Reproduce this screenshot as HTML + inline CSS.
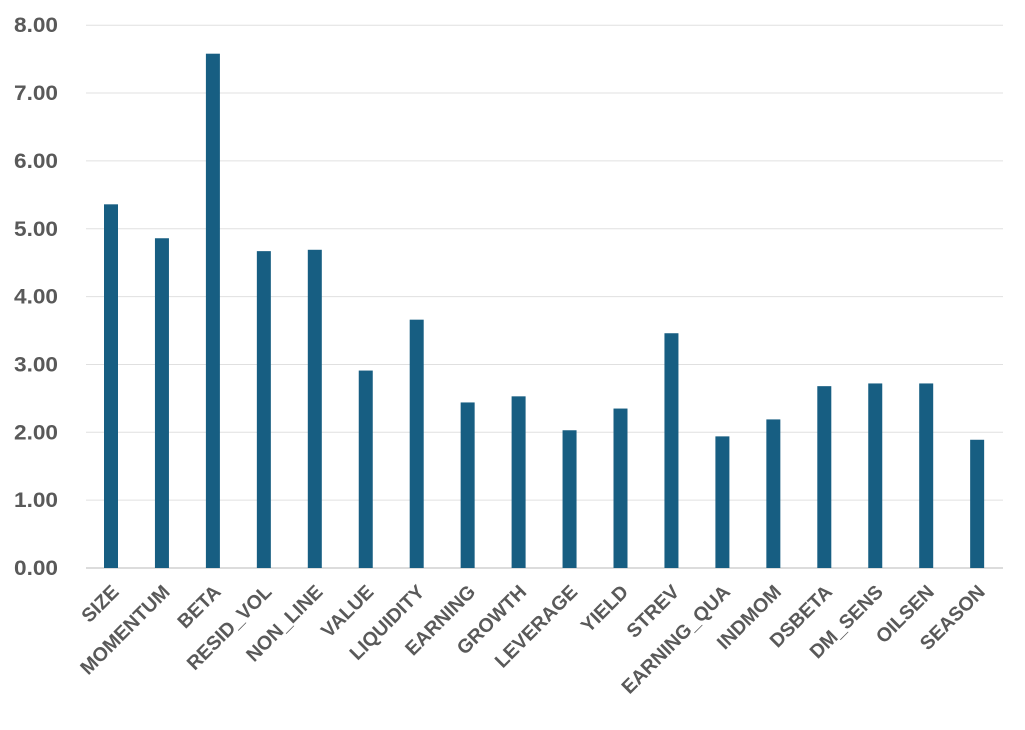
<!DOCTYPE html>
<html><head><meta charset="utf-8"><style>body{margin:0;background:#fff}</style></head><body>
<svg width="1025" height="725" xmlns="http://www.w3.org/2000/svg" font-family="Liberation Sans, sans-serif">
<g id="c"></g>
</svg>
<script>
const vals=[["SIZE",5.36],["MOMENTUM",4.86],["BETA",7.58],["RESID_VOL",4.67],["NON_LINE",4.69],["VALUE",2.91],["LIQUIDITY",3.66],["EARNING",2.44],["GROWTH",2.53],["LEVERAGE",2.03],["YIELD",2.35],["STREV",3.46],["EARNING_QUA",1.94],["INDMOM",2.19],["DSBETA",2.68],["DM_SENS",2.72],["OILSEN",2.72],["SEASON",1.89]];
const y0=568,k=67.85;let s="";
for(let i=0;i<=8;i++){const y=y0-i*k;
s+=`<line x1="86" x2="1003" y1="${y}" y2="${y}" stroke="${i?'#e0e0e0':'#d0d0d0'}" stroke-width="${i?1:1.5}"/>`;
s+=`<text x="58" y="${y+7}" font-size="21" font-weight="bold" fill="#595959" text-anchor="end" textLength="44" lengthAdjust="spacingAndGlyphs">${i}.00</text>`;}
vals.forEach(([n,v],i)=>{const cx=111+i*50.95;
s+=`<rect x="${cx-7}" y="${y0-v*k}" width="14" height="${v*k}" fill="#175e82"/>`;
s+=`<text transform="translate(${cx+9},593) rotate(-45)" font-size="19.5" font-weight="bold" fill="#595959" text-anchor="end">${n}</text>`;});
document.getElementById("c").innerHTML=s;
</script>
</body></html>
